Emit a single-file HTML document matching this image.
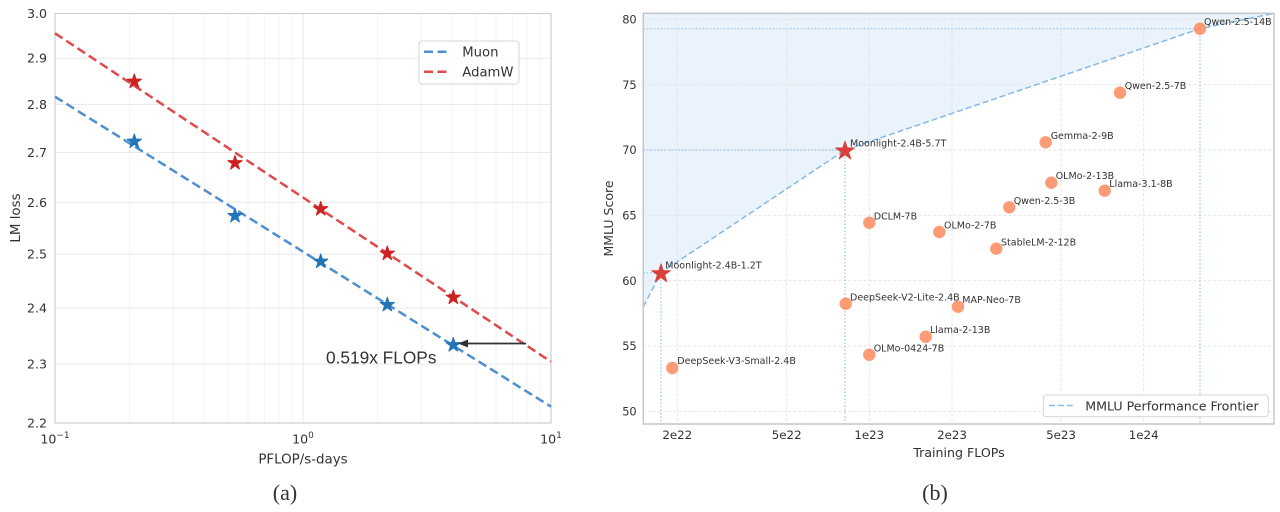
<!DOCTYPE html>
<html>
<head>
<meta charset="utf-8">
<style>
html,body{margin:0;padding:0;background:#fff;}
svg{display:block;}
text{fill:#333;}
</style>
</head>
<body>
<svg width="1280" height="512" viewBox="0 0 1280 512" xmlns="http://www.w3.org/2000/svg" font-family="'DejaVu Sans', 'Liberation Sans', sans-serif">
<defs>
<polygon id="star" points="0,-1 0.2245,-0.309 0.9511,-0.309 0.3633,0.118 0.5878,0.809 0,0.382 -0.5878,0.809 -0.3633,0.118 -0.9511,-0.309 -0.2245,-0.309"/>
</defs>
<rect width="1280" height="512" fill="#fff"/>

<!-- ================= LEFT CHART (a) ================= -->
<g>
<g stroke="#f1f1f1" stroke-width="0.9">
<line x1="129.7" y1="13.5" x2="129.7" y2="423"/>
<line x1="173.3" y1="13.5" x2="173.3" y2="423"/>
<line x1="204.3" y1="13.5" x2="204.3" y2="423"/>
<line x1="228.3" y1="13.5" x2="228.3" y2="423"/>
<line x1="248" y1="13.5" x2="248" y2="423"/>
<line x1="264.6" y1="13.5" x2="264.6" y2="423"/>
<line x1="279" y1="13.5" x2="279" y2="423"/>
<line x1="291.7" y1="13.5" x2="291.7" y2="423"/>
<line x1="377.7" y1="13.5" x2="377.7" y2="423"/>
<line x1="421.3" y1="13.5" x2="421.3" y2="423"/>
<line x1="452.3" y1="13.5" x2="452.3" y2="423"/>
<line x1="476.3" y1="13.5" x2="476.3" y2="423"/>
<line x1="496" y1="13.5" x2="496" y2="423"/>
<line x1="512.6" y1="13.5" x2="512.6" y2="423"/>
<line x1="527" y1="13.5" x2="527" y2="423"/>
<line x1="539.7" y1="13.5" x2="539.7" y2="423"/>
</g>
<g stroke="#e9e9e9" stroke-width="1">
<line x1="303" y1="13.5" x2="303" y2="423"/>
<line x1="55" y1="58.2" x2="551" y2="58.2"/>
<line x1="55" y1="104.5" x2="551" y2="104.5"/>
<line x1="55" y1="152.5" x2="551" y2="152.5"/>
<line x1="55" y1="202.3" x2="551" y2="202.3"/>
<line x1="55" y1="254.1" x2="551" y2="254.1"/>
<line x1="55" y1="308" x2="551" y2="308"/>
<line x1="55" y1="364.1" x2="551" y2="364.1"/>
</g>
<rect x="55" y="13.5" width="496" height="409.5" fill="none" stroke="#cfcfcf" stroke-width="1.2"/>

<line x1="55" y1="96.7" x2="551" y2="406.7" stroke="#4d8fcf" stroke-width="2.5" stroke-dasharray="9,4.5"/>
<line x1="55" y1="33.3" x2="551" y2="361.7" stroke="#df4a4a" stroke-width="2.5" stroke-dasharray="9,4.5"/>

<g fill="#2474b8" stroke="#2474b8" stroke-width="0.14" stroke-linejoin="round">
<use href="#star" transform="translate(134.3,141.5) scale(7.5)"/>
<use href="#star" transform="translate(235,215.8) scale(7.5)"/>
<use href="#star" transform="translate(320.7,261.5) scale(7.5)"/>
<use href="#star" transform="translate(387.3,304.8) scale(7.5)"/>
<use href="#star" transform="translate(453.3,345) scale(7.5)"/>
</g>
<g fill="#cc2222" stroke="#cc2222" stroke-width="0.14" stroke-linejoin="round">
<use href="#star" transform="translate(134.3,81.5) scale(7.5)"/>
<use href="#star" transform="translate(235,163) scale(7.5)"/>
<use href="#star" transform="translate(320.7,209) scale(7.5)"/>
<use href="#star" transform="translate(387.3,253.5) scale(7.5)"/>
<use href="#star" transform="translate(453.3,297.5) scale(7.5)"/>
</g>

<line x1="526" y1="343.5" x2="466" y2="343.5" stroke="#333" stroke-width="1.8"/>
<polygon points="458,343.5 468,339.5 468,347.5" fill="#333"/>
<text x="326" y="363.3" font-family="'Liberation Sans', Arial, sans-serif" font-size="17.3" fill="#111">0.519x FLOPs</text>

<rect x="419" y="41" width="100" height="43" rx="3" fill="#fff" fill-opacity="0.85" stroke="#d6d6d6" stroke-width="1"/>
<line x1="424" y1="51.7" x2="448.3" y2="51.7" stroke="#4d8fcf" stroke-width="2.5" stroke-dasharray="9,4.5"/>
<line x1="424" y1="71.7" x2="448.3" y2="71.7" stroke="#df4a4a" stroke-width="2.5" stroke-dasharray="9,4.5"/>
<text x="462.3" y="56.5" font-size="13.2">Muon</text>
<text x="462.3" y="76.5" font-size="13.2">AdamW</text>

<g font-size="12.6" text-anchor="end">
<text x="47" y="18">3.0</text>
<text x="47" y="62.7">2.9</text>
<text x="47" y="109">2.8</text>
<text x="47" y="157">2.7</text>
<text x="47" y="206.8">2.6</text>
<text x="47" y="258.6">2.5</text>
<text x="47" y="312.5">2.4</text>
<text x="47" y="368.6">2.3</text>
<text x="47" y="427.5">2.2</text>
</g>
<g font-size="12.6" text-anchor="middle">
<text x="55" y="443.3">10<tspan font-size="9" dy="-5.5">−1</tspan></text>
<text x="303" y="443.3">10<tspan font-size="9" dy="-5.5">0</tspan></text>
<text x="551" y="443.3">10<tspan font-size="9" dy="-5.5">1</tspan></text>
</g>
<text x="303" y="463.5" font-size="13.4" text-anchor="middle">PFLOP/s-days</text>
<text transform="translate(20,218) rotate(-90)" font-size="13.4" text-anchor="middle">LM loss</text>
<text x="285" y="500" font-family="'Liberation Serif', 'Times New Roman', serif" font-size="22" text-anchor="middle" fill="#111">(a)</text>
</g>

<!-- ================= RIGHT CHART (b) ================= -->
<g>
<polygon points="643.3,306.7 661,272.7 845,150 1200,28.7 1274,13.3 643.3,13.3" fill="#eaf2fb"/>
<g stroke="#e2e2e2" stroke-width="0.9" stroke-dasharray="3,2">
<line x1="643.3" y1="19.3" x2="1274" y2="19.3"/>
<line x1="643.3" y1="84.65" x2="1274" y2="84.65"/>
<line x1="643.3" y1="150" x2="1274" y2="150"/>
<line x1="643.3" y1="215.35" x2="1274" y2="215.35"/>
<line x1="643.3" y1="280.7" x2="1274" y2="280.7"/>
<line x1="643.3" y1="346.05" x2="1274" y2="346.05"/>
<line x1="643.3" y1="411.4" x2="1274" y2="411.4"/>
<line x1="677.3" y1="13.3" x2="677.3" y2="424"/>
<line x1="786.7" y1="13.3" x2="786.7" y2="424"/>
<line x1="869.3" y1="13.3" x2="869.3" y2="424"/>
<line x1="952" y1="13.3" x2="952" y2="424"/>
<line x1="1061" y1="13.3" x2="1061" y2="424"/>
<line x1="1143.7" y1="13.3" x2="1143.7" y2="424"/>
</g>
<g stroke="#93c3ec" stroke-width="1.2" stroke-dasharray="1.5,2">
<line x1="643.3" y1="272.7" x2="661" y2="272.7"/>
<line x1="661" y1="272.7" x2="661" y2="424"/>
<line x1="643.3" y1="150" x2="845" y2="150"/>
<line x1="845" y1="150" x2="845" y2="424"/>
<line x1="643.3" y1="28.7" x2="1200" y2="28.7"/>
<line x1="1200" y1="28.7" x2="1200" y2="424"/>
</g>
<polyline points="643.3,306.7 661,272.7 845,150 1200,28.7 1274,13.3" fill="none" stroke="#85b9e6" stroke-width="1.5" stroke-dasharray="6,3"/>
<rect x="643.3" y="13.3" width="630.7" height="410.7" fill="none" stroke="#c6c6c6" stroke-width="1.5"/>

<g fill="#fc8d62" fill-opacity="0.88">
<circle cx="1200" cy="28.7" r="6.2"/>
<circle cx="1120" cy="92.7" r="6.2"/>
<circle cx="1045.7" cy="142.3" r="6.2"/>
<circle cx="1051.3" cy="182.7" r="6.2"/>
<circle cx="1104.7" cy="190.7" r="6.2"/>
<circle cx="1009.3" cy="207.3" r="6.2"/>
<circle cx="939.3" cy="232" r="6.2"/>
<circle cx="996.3" cy="248.7" r="6.2"/>
<circle cx="869.3" cy="222.7" r="6.2"/>
<circle cx="845.7" cy="303.7" r="6.2"/>
<circle cx="958" cy="306.7" r="6.2"/>
<circle cx="925.7" cy="336.7" r="6.2"/>
<circle cx="869.3" cy="354.7" r="6.2"/>
<circle cx="672.3" cy="368" r="6.2"/>
</g>
<g fill="#d93f3b" stroke="#d93f3b" stroke-width="0.08" stroke-linejoin="round">
<use href="#star" transform="translate(845,151) scale(10)"/>
<use href="#star" transform="translate(661,273.7) scale(10)"/>
</g>
<g font-size="9.5" fill="#333">
<text x="1204" y="25">Qwen-2.5-14B</text>
<text x="1124.7" y="89">Qwen-2.5-7B</text>
<text x="1050.7" y="139">Gemma-2-9B</text>
<text x="1055.7" y="179">OLMo-2-13B</text>
<text x="1109.3" y="187">Llama-3.1-8B</text>
<text x="1013.7" y="204">Qwen-2.5-3B</text>
<text x="944" y="228.7">OLMo-2-7B</text>
<text x="1001" y="245.3">StableLM-2-12B</text>
<text x="873.7" y="219.7">DCLM-7B</text>
<text x="850" y="300.4">DeepSeek-V2-Lite-2.4B</text>
<text x="962.3" y="303">MAP-Neo-7B</text>
<text x="930" y="333">Llama-2-13B</text>
<text x="873.7" y="351.4">OLMo-0424-7B</text>
<text x="677.3" y="364">DeepSeek-V3-Small-2.4B</text>
<text x="850" y="146.4">Moonlight-2.4B-5.7T</text>
<text x="665.3" y="268.7">Moonlight-2.4B-1.2T</text>
</g>

<rect x="1043.3" y="395" width="225" height="21.7" rx="3" fill="#fff" fill-opacity="0.9" stroke="#d6d6d6" stroke-width="1"/>
<line x1="1049" y1="405.5" x2="1072.7" y2="405.5" stroke="#85b9e6" stroke-width="1.5" stroke-dasharray="6,3"/>
<text x="1085.3" y="410.5" font-size="12.6">MMLU Performance Frontier</text>

<g font-size="11.4" text-anchor="end">
<text x="636.7" y="23.5">80</text>
<text x="636.7" y="88.8">75</text>
<text x="636.7" y="154.1">70</text>
<text x="636.7" y="219.5">65</text>
<text x="636.7" y="284.8">60</text>
<text x="636.7" y="350.2">55</text>
<text x="636.7" y="415.5">50</text>
</g>
<g font-size="11.8" text-anchor="middle">
<text x="677.3" y="439">2e22</text>
<text x="786.7" y="439">5e22</text>
<text x="869.3" y="439">1e23</text>
<text x="952" y="439">2e23</text>
<text x="1061" y="439">5e23</text>
<text x="1143.7" y="439">1e24</text>
</g>
<text x="959" y="457" font-size="12.6" text-anchor="middle">Training FLOPs</text>
<text transform="translate(613,218.5) rotate(-90)" font-size="12.5" text-anchor="middle">MMLU Score</text>
<text x="935" y="500" font-family="'Liberation Serif', 'Times New Roman', serif" font-size="22" text-anchor="middle" fill="#111">(b)</text>
</g>
</svg>
</body>
</html>
